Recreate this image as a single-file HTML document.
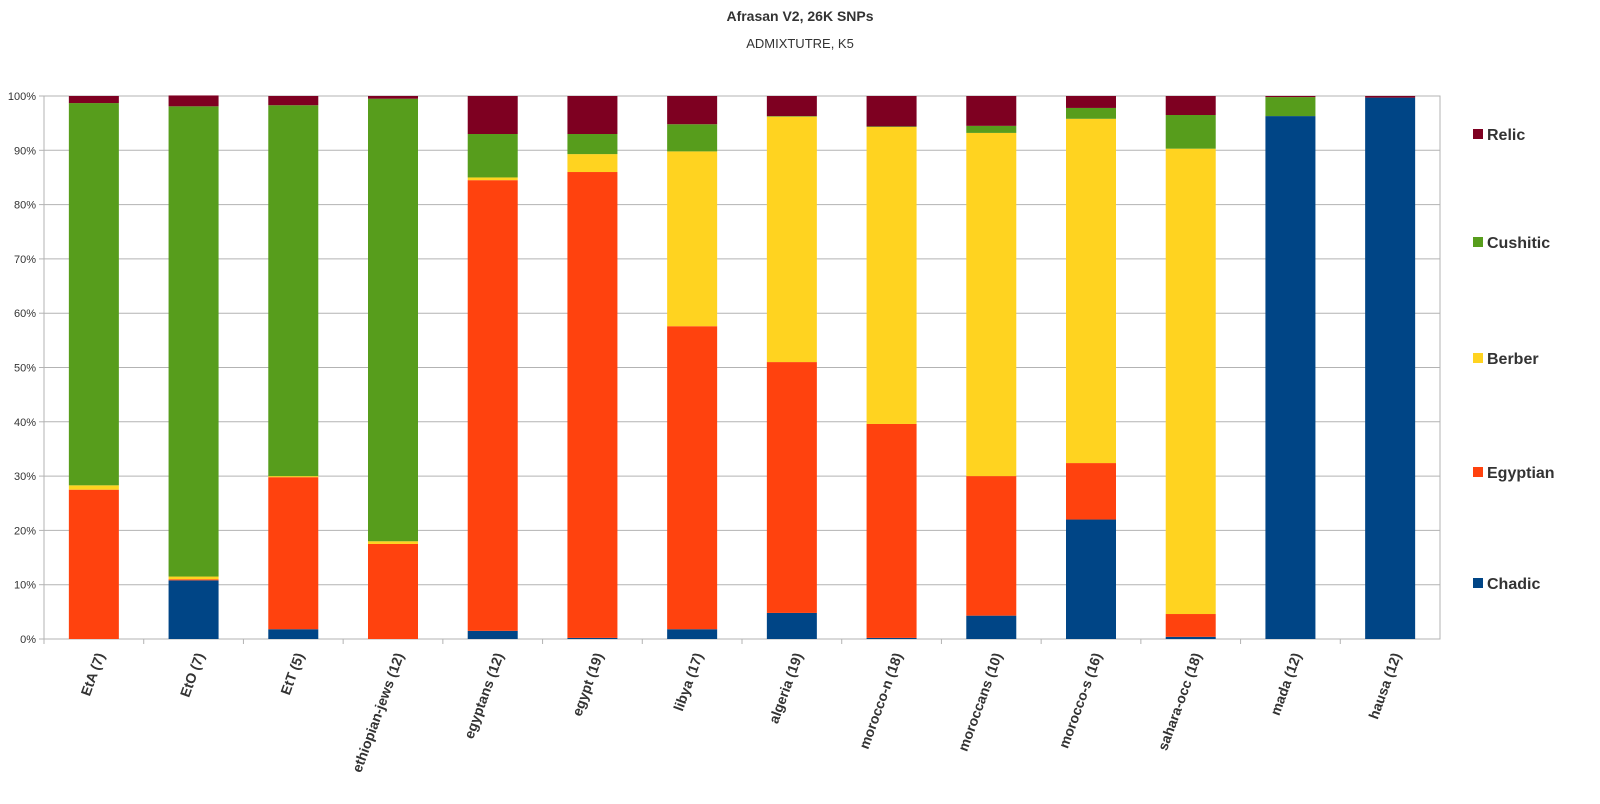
<!DOCTYPE html>
<html><head><meta charset="utf-8"><style>
html,body{margin:0;padding:0;background:#fff;}
svg{display:block;font-family:"Liberation Sans",sans-serif;}
</style></head><body>
<svg id="chart" width="1600" height="804" viewBox="0 0 1600 804">
<text x="800" y="21" text-anchor="middle" font-size="14" font-weight="bold" fill="#333">Afrasan V2, 26K SNPs</text>
<text x="800" y="48" text-anchor="middle" font-size="13" fill="#333">ADMIXTUTRE, K5</text>
<g id="grid"></g>
<g id="bars"></g>
<g id="yaxis"></g>
<g id="xaxis"></g>
<g id="legend"></g>
</svg>
<script>
const categories = ["EtA (7)","EtO (7)","EtT (5)","ethiopian-jews (12)","egyptans (12)","egypt (19)","libya (17)","algeria (19)","morocco-n (18)","moroccans (10)","morocco-s (16)","sahara-occ (18)","mada (12)","hausa (12)"];
const seriesNames = ["Chadic","Egyptian","Berber","Cushitic","Relic"];
const chadic   = [0, 10.8, 1.8, 0, 1.5, 0.2, 1.8, 4.8, 0.2, 4.3, 22, 0.4, 96.3, 99.7];
const egyptian = [27.5, 0.2, 28, 17.5, 83, 85.8, 55.8, 46.2, 39.4, 25.7, 10.4, 4.2, 0, 0];
const berber   = [0.8, 0.5, 0.2, 0.5, 0.5, 3.3, 32.2, 45.2, 54.7, 63.2, 63.4, 85.7, 0, 0];
const cushitic = [70.4, 86.6, 68.3, 81.5, 8, 3.7, 5, 0.1, 0.1, 1.3, 2, 6.2, 3.5, 0];
const relic    = [1.3, 2.0, 1.7, 0.5, 7, 7, 5.2, 3.7, 5.6, 5.5, 2.2, 3.5, 0.2, 0.3];
const yTicks = [0,10,20,30,40,50,60,70,80,90,100];
const colors = ["#004586","#ff420e","#ffd320","#579d1c","#7e0021"];
const series = [chadic, egyptian, berber, cushitic, relic];

const NS = "http://www.w3.org/2000/svg";
const L = 44, R = 1440, T = 96, B = 639;
const band = (R - L) / categories.length;
const barW = 50;
const y = v => B - (v / 100) * (B - T);
const xc = i => L + band * (i + 0.5);
function mk(tag, attrs, parent) {
  const e = document.createElementNS(NS, tag);
  for (const k in attrs) e.setAttribute(k, attrs[k]);
  parent.appendChild(e);
  return e;
}
const grid = document.getElementById("grid");
const yaxis = document.getElementById("yaxis");
yTicks.forEach(t => {
  const ln = mk("line", {x1: L, x2: R, y1: y(t), y2: y(t), stroke: "#b3b3b3", "stroke-width": 1}, grid);
  
  
  const tk = mk("line", {x1: L - 5, x2: L, y1: y(t), y2: y(t), stroke: "#b3b3b3"}, yaxis);
  
  
  const tx = mk("text", {x: L - 8, y: y(t) + 4, "text-anchor": "end", "font-size": 11, fill: "#333"}, yaxis);
  tx.textContent = t + "%";
  
  
});
const border = mk("rect", {x: L, y: T, width: R - L, height: B - T, fill: "none", stroke: "#b3b3b3"}, grid);



const bars = document.getElementById("bars");
const xaxis = document.getElementById("xaxis");
categories.forEach((c, i) => {
  let acc = 0;
  series.forEach((s, k) => {
    const v = s[i];
    if (v > 0) {
      const r = mk("rect", {x: xc(i) - barW / 2, y: y(acc + v), width: barW, height: y(acc) - y(acc + v), fill: colors[k]}, bars);
      
      
    }
    acc += v;
  });
  const tk = mk("line", {x1: L + band * i, x2: L + band * i, y1: B, y2: B + 5, stroke: "#b3b3b3"}, xaxis);
  
  
  const tx = mk("text", {transform: `translate(${xc(i) + 11},${B + 16}) rotate(-70)`, "text-anchor": "end", "font-size": 14, "font-weight": "bold", fill: "#333"}, xaxis);
  tx.textContent = c;
  
  
});

const legend = document.getElementById("legend");
const legY = [584, 473, 359, 243, 135];
seriesNames.forEach((n, k) => {
  const sw = mk("rect", {x: 1473, y: legY[k] - 6, width: 10, height: 10, fill: colors[k]}, legend);
  
  
  const tx = mk("text", {x: 1487, y: legY[k] + 5, "font-size": 16, "font-weight": "bold", fill: "#333"}, legend);
  tx.textContent = n;
  
  
});
</script>
</body></html>
